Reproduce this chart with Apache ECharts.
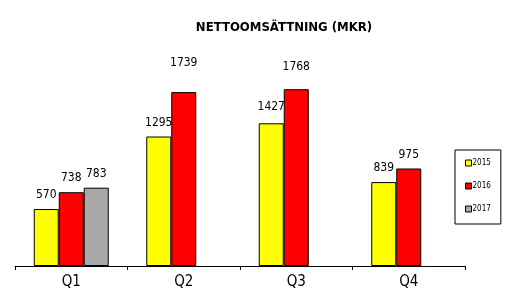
<!DOCTYPE html>
<html><head><meta charset="utf-8">
<script src="https://cdn.jsdelivr.net/npm/echarts@6/dist/echarts.min.js"></script>
<style>html,body{margin:0;padding:0;background:#fff}#c{width:524px;height:301px}</style>
</head><body><div id="c"></div>
<script>
const categories = ['Q1', 'Q2', 'Q3', 'Q4'];
const seriesNames = ['2015', '2016', '2017'];
const values2015 = [570, 1295, 1427, 839];
const values2016 = [738, 1739, 1768, 975];
const values2017 = [783, null, null, null];
const colors = ['#ffff00', '#ff0000', '#a8a8a8'];
// extra label lift (px) per bar, styling only
const lift2015 = [0, 0, 2, 0];
const lift2016 = [0, 15, 8, 0];
const lift2017 = [0, 0, 0, 0];

const FONT = '"DejaVu Sans Condensed", "Liberation Sans Narrow", sans-serif';
function mk(name, vals, color, lifts) {
  return {
    name: name, type: 'bar', barWidth: 25, barGap: '0%',
    itemStyle: { color: color, borderColor: '#000', borderWidth: 1 },
    data: vals.map((v, i) => ({
      value: v,
      label: { distance: 8 + lifts[i] }
    })),
    label: { show: true, position: 'top', color: '#000', fontFamily: FONT, fontSize: 12 }
  };
}
const chart = echarts.init(document.getElementById('c'));
chart.setOption({
  animation: false,
  backgroundColor: '#fff',
  title: { text: 'NETTOOMSÄTTNING (MKR)', left: 279, top: 16, textAlign: 'center',
    textStyle: { fontFamily: FONT, fontWeight: 'bold', fontSize: 13, color: '#000' } },
  legend: {
    orient: 'vertical', left: 455, top: 150, width: 43,
    borderColor: '#000', borderWidth: 1, padding: [9, 10, 11, 10], itemGap: 15,
    itemWidth: 6, itemHeight: 6, icon: 'rect',
    textStyle: { fontFamily: FONT, fontSize: 8, color: '#000', padding: [0, 4, 0, -4] },
    data: seriesNames.map((n, i) => ({ name: n, itemStyle: { color: colors[i], borderColor: '#000', borderWidth: 1 } }))
  },
  grid: { left: 15, right: 59, top: 66, bottom: 35, containLabel: false },
  xAxis: {
    type: 'category', data: categories,
    axisLine: { lineStyle: { color: '#000', width: 1 } },
    axisTick: { show: true, length: 4, lineStyle: { color: '#000' } },
    axisLabel: { color: '#000', fontFamily: FONT, fontSize: 15, margin: 9 }
  },
  yAxis: { type: 'value', min: 0, max: 2000, show: false, splitLine: { show: false } },
  series: [
    mk(seriesNames[0], values2015, colors[0], lift2015),
    mk(seriesNames[1], values2016, colors[1], lift2016),
    mk(seriesNames[2], values2017, colors[2], lift2017)
  ]
});
</script></body></html>
